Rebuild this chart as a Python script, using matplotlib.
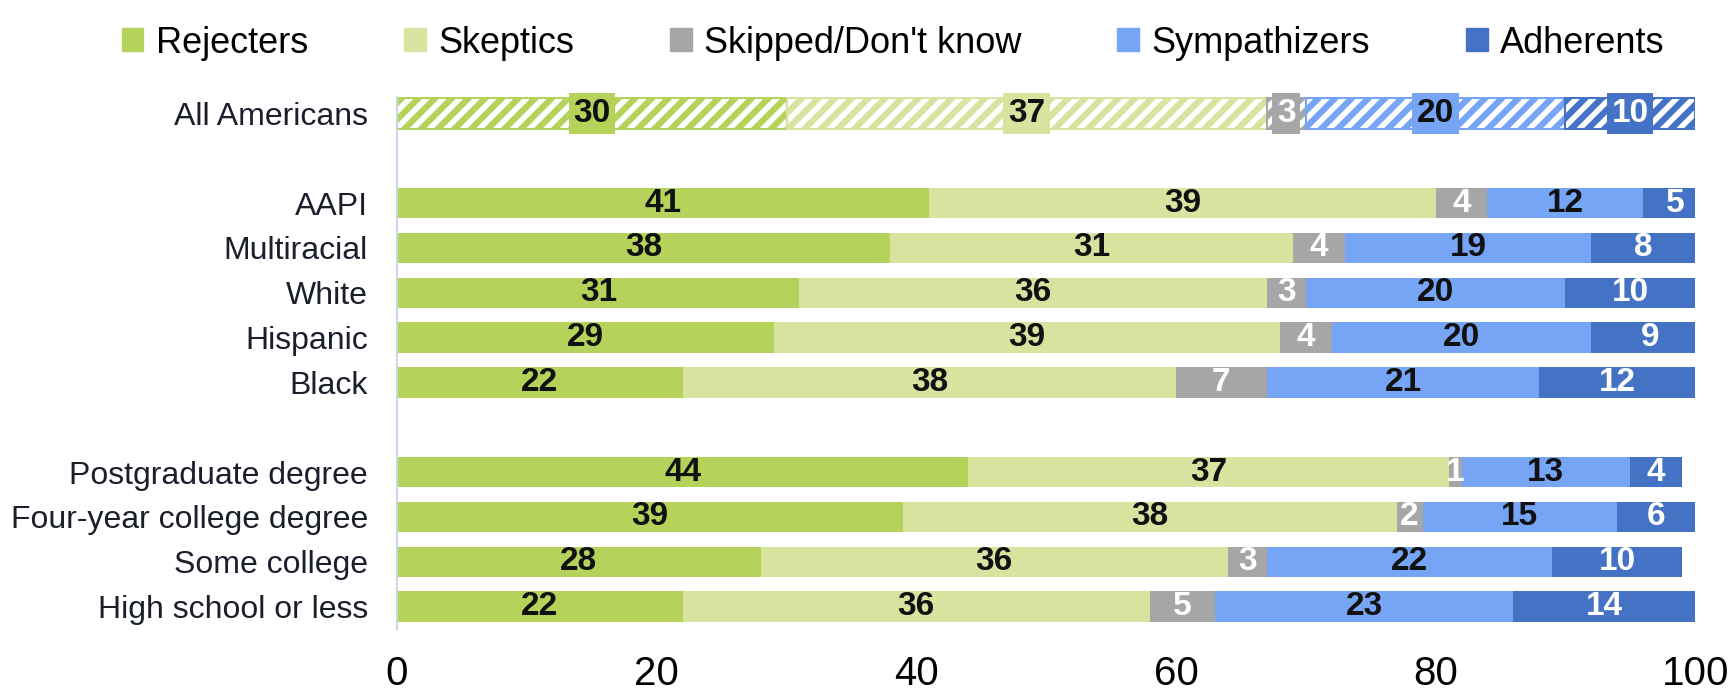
import numpy as np
import matplotlib.pyplot as plt
from matplotlib.patches import Patch

# categories, top to bottom (None = blank spacer row)
groups = ['All Americans', None,
          'AAPI', 'Multiracial', 'White', 'Hispanic', 'Black', None,
          'Postgraduate degree', 'Four-year college degree', 'Some college', 'High school or less']

series = ['Rejecters', 'Skeptics', "Skipped/Don't know", 'Sympathizers', 'Adherents']
colors = ['#b5d35a', '#d9e3a0', '#a6a6a6', '#76a5f5', '#4472c4']
label_colors = ['#111111', '#111111', 'white', '#111111', 'white']

rejecters    = [30, 41, 38, 31, 29, 22, 44, 39, 28, 22]
skeptics     = [37, 39, 31, 36, 39, 38, 37, 38, 36, 36]
skipped      = [3, 4, 4, 3, 4, 7, 1, 2, 3, 5]
sympathizers = [20, 12, 19, 20, 20, 21, 13, 15, 22, 23]
adherents    = [10, 5, 8, 10, 9, 12, 4, 6, 10, 14]

data = np.array([rejecters, skeptics, skipped, sympathizers, adherents], dtype=float)

narrow = ['Liberation Sans Narrow', 'Liberation Sans', 'DejaVu Sans']
plt.rcParams['font.family'] = ['Liberation Sans', 'DejaVu Sans']
plt.rcParams['hatch.linewidth'] = 4.5

fig = plt.figure(figsize=(17.31, 6.9), dpi=100)
ax = fig.add_axes([0.2294, 0.0884, 0.7499, 0.7706])

ypos = [i for i, g in enumerate(groups) if g is not None]
names = [g for g in groups if g is not None]

h = 0.68
for r, y in enumerate(ypos):
    left = 0.0
    for s in range(len(series)):
        v = data[s, r]
        if r == 0:
            # "All Americans" row is hatched, labels sit on a solid box
            ax.barh(y, v, left=left, height=h, color='white', edgecolor=colors[s],
                    hatch='//', linewidth=1.5)
            ax.text(left + v / 2, y, f'{int(v)}', ha='center', va='center',
                    fontsize=24, fontweight='bold', family=narrow, color=label_colors[s],
                    bbox=dict(boxstyle='square,pad=0.14', fc=colors[s], ec='none'))
        else:
            ax.barh(y, v, left=left, height=h, color=colors[s], linewidth=0)
            ax.text(left + v / 2, y, f'{int(v)}', ha='center', va='center',
                    fontsize=24, fontweight='bold', family=narrow, color=label_colors[s])
        left += v

ax.set_xlim(0, 100)
ax.set_ylim(11.5, -0.36)
ax.set_yticks(ypos)
ax.set_yticklabels(names, fontsize=23, color='#1a1f2b')
ax.set_xticks([0, 20, 40, 60, 80, 100])
for t in ax.get_xticklabels():
    t.set_family(narrow)
    t.set_fontsize(29)
ax.tick_params(length=0)
ax.tick_params(axis='y', pad=21)
ax.tick_params(axis='x', pad=19)
for sp in ['top', 'right', 'bottom']:
    ax.spines[sp].set_visible(False)
ax.spines['left'].set_color('#c9d6e8')
ax.spines['left'].set_linewidth(1.5)

handles = [Patch(color=c, label=l) for c, l in zip(colors, series)]
fig.legend(handles=handles, loc='upper center', bbox_to_anchor=(0.516, 1.01), ncol=5,
           frameon=False, prop={'family': narrow, 'size': 26}, handlelength=0.6,
           handleheight=0.6, handletextpad=0.35, columnspacing=2.65)

fig.savefig('out.png', dpi=100)
